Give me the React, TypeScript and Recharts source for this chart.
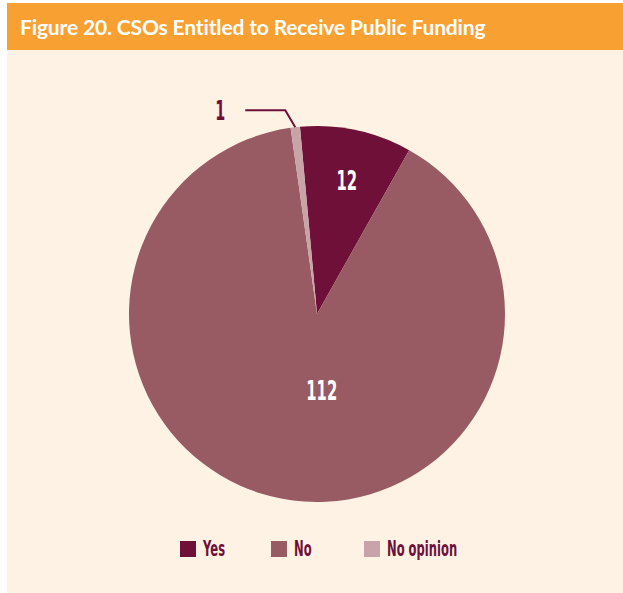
import { PieChart, Pie, Cell, Legend } from "recharts";

const categories = ["Yes", "No", "No opinion"];
const counts = [12, 112, 1];
const colors = ["#6f1038", "#985a63", "#c8a3a7"];

const data = categories.map((name, i) => ({ name, value: counts[i] }));

const RAD = Math.PI / 180;
const labelFont = "'DejaVu Sans', sans-serif";
const squeeze = 0.55;

function renderLabel(props: any) {
  const { cx, cy, midAngle, outerRadius, index, value } = props;
  const cos = Math.cos(-midAngle * RAD);
  const sin = Math.sin(-midAngle * RAD);
  if (index === 2) {
    // outside label with a bent leader line
    const ex = cx + outerRadius * cos;
    const ey = cy + outerRadius * sin;
    const kx = ex - 10;
    const ky = ey - 17;
    const hx = kx - 40;
    return (
      <g>
        <polyline
          points={`${ex},${ey} ${kx},${ky} ${hx},${ky}`}
          fill="none"
          stroke="#6f1038"
          strokeWidth={2}
        />
        <text
          transform={`translate(${hx - 20},${ky + 10}) scale(${squeeze},1)`}
          fill="#6f1038"
          fontSize={26}
          fontWeight={700}
          fontFamily={labelFont}
          textAnchor="end"
        >
          {value}
        </text>
      </g>
    );
  }
  const r = index === 0 ? outerRadius * 0.73 : outerRadius * 0.41;
  const off = index === 1 ? 19 : 1;
  const x = cx + r * cos + off;
  const y = cy + r * sin;
  return (
    <text
      transform={`translate(${x},${y + 10}) scale(${squeeze},1)`}
      fill="#ffffff"
      fontSize={27}
      fontWeight={700}
      fontFamily={labelFont}
      textAnchor="middle"
    >
      {value}
    </text>
  );
}

const legendLeft = [173, 264, 357];

function LegendContent() {
  return (
    <div style={{ position: "relative", height: 22 }}>
      {categories.map((c, i) => (
        <div
          key={c}
          style={{
            position: "absolute",
            left: legendLeft[i],
            top: 0,
            display: "flex",
            alignItems: "center",
            whiteSpace: "nowrap",
          }}
        >
          <span
            style={{
              width: 16,
              height: 16,
              background: colors[i],
              display: "inline-block",
              marginRight: 7,
            }}
          />
          <span
            style={{
              color: "#6f1038",
              fontFamily: labelFont,
              fontWeight: 700,
              fontSize: 21,
              display: "inline-block",
              transform: `scaleX(${squeeze})`,
              transformOrigin: "left center",
            }}
          >
            {c}
          </span>
        </div>
      ))}
    </div>
  );
}

export default function App() {
  return (
    <div
      style={{
        position: "absolute",
        left: 7,
        top: 3,
        width: 616,
        height: 590,
        background: "#fdf2e4",
      }}
    >
      <div
        style={{
          height: 47,
          background: "#f9a032",
          color: "#ffffff",
          fontFamily: "Lato, sans-serif",
          fontWeight: 700,
          fontSize: 21,
          letterSpacing: -0.15,
          lineHeight: "47px",
          paddingLeft: 13,
          whiteSpace: "nowrap",
        }}
      >
        Figure 20. CSOs Entitled to Receive Public Funding
      </div>
      <PieChart width={616} height={543}>
        <Pie
          data={data}
          dataKey="value"
          nameKey="name"
          cx={305}
          cy={259}
          outerRadius={188}
          startAngle={95.2}
          endAngle={-264.8}
          stroke="none"
          label={renderLabel}
          labelLine={false}
          isAnimationActive={false}
        >
          {data.map((d, i) => (
            <Cell key={d.name} fill={colors[i]} />
          ))}
        </Pie>
        <Legend
          verticalAlign="bottom"
          content={<LegendContent />}
          wrapperStyle={{ bottom: 34, left: 0, width: 616 }}
        />
      </PieChart>
    </div>
  );
}
